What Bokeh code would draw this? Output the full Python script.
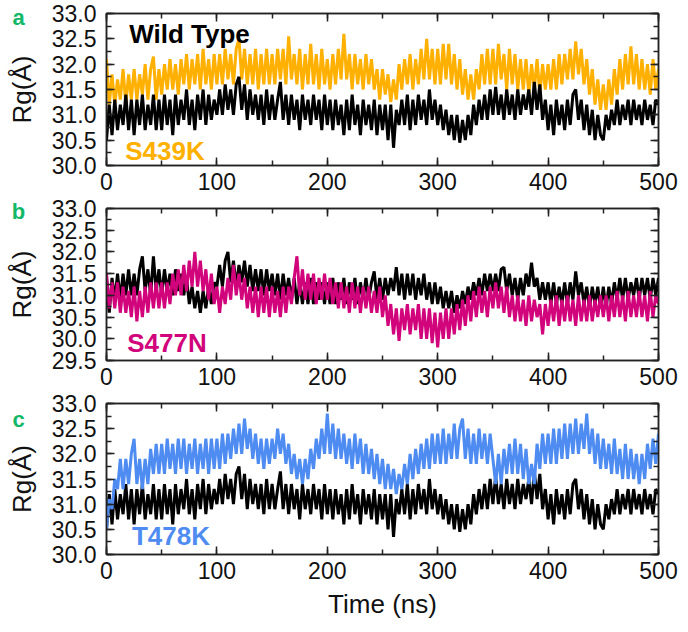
import numpy as np
from bokeh.plotting import figure
from bokeh.layouts import column, row
from bokeh.models import (Range1d, SingleIntervalTicker, PrintfTickFormatter,
                          LinearAxis, Label, CustomJSTickFormatter)
from bokeh.embed import file_html
from bokeh.resources import INLINE

# ---------------- data (Rg in Angstrom, sampled every 2.5 ns, 0..500 ns) ----------------
wild_type = [
    30.5, 31.2, 30.6, 31.3, 30.7, 31.2, 30.8, 31.4, 30.7, 31.3, 30.6, 31.3, 30.8, 31.4, 30.7, 31.2, 30.8, 31.4, 30.7, 31.3,
    30.7, 31.4, 30.8, 31.3, 30.6, 31.4, 30.8, 31.3, 30.9, 31.5, 30.8, 31.3, 30.7, 31.4, 30.9, 31.5, 30.8, 31.4, 30.9, 31.3,
    31.0, 31.5, 31.0, 31.6, 31.1, 31.5, 31.0, 31.6, 31.75, 31.1, 31.6, 30.9, 31.5, 31.0, 31.4, 30.9, 31.4, 30.8, 31.5, 30.9,
    31.4, 30.9, 31.3, 31.65, 30.9, 31.4, 30.8, 31.4, 30.9, 31.3, 30.7, 31.4, 30.9, 31.3, 30.8, 31.4, 30.9, 31.3, 30.7, 31.4,
    30.8, 31.3, 30.7, 31.3, 30.8, 31.2, 30.6, 31.3, 30.7, 31.4, 30.8, 31.2, 30.6, 31.3, 30.8, 31.2, 30.7, 31.3, 30.6, 31.2,
    30.7, 31.2, 30.5, 31.2, 30.35, 31.1, 30.8, 31.3, 30.8, 31.4, 30.7, 31.3, 30.8, 31.4, 30.9, 31.3, 30.8, 31.5, 30.9, 31.3,
    30.8, 31.2, 30.7, 31.1, 30.6, 31.0, 30.5, 31.0, 30.45, 30.9, 30.5, 31.0, 30.6, 31.2, 30.8, 31.3, 30.9, 31.4, 30.9, 31.5,
    31.0, 31.55, 31.0, 31.4, 30.9, 31.5, 31.0, 31.4, 30.9, 31.5, 31.0, 31.4, 31.1, 31.5, 31.0, 31.65, 31.1, 31.6, 30.9, 31.3,
    30.7, 31.2, 30.6, 31.3, 30.8, 31.2, 30.7, 31.3, 30.8, 31.4, 31.5, 30.9, 31.3, 30.7, 31.2, 30.6, 31.1, 30.5, 31.0, 30.6,
    30.5, 31.0, 30.7, 31.1, 30.8, 31.3, 30.8, 31.2, 30.9, 31.3, 30.8, 31.3, 30.9, 31.2, 30.8, 31.3, 30.9, 31.2, 30.8, 31.3,
    31.2,
]

s439k = [
    32.1, 31.2, 31.8, 31.2, 31.7, 31.3, 31.9, 31.2, 31.8, 31.3, 31.9, 31.3, 31.8, 31.4, 32.0, 31.3, 31.9, 32.15, 31.3, 31.9,
    31.4, 32.0, 31.5, 32.1, 31.5, 32.0, 31.4, 32.1, 31.6, 32.2, 31.5, 32.1, 31.6, 32.2, 31.5, 32.3, 31.6, 32.1, 31.5, 32.2,
    31.6, 32.2, 31.6, 32.3, 31.7, 32.2, 31.6, 32.3, 32.5, 31.7, 32.3, 31.6, 32.2, 31.6, 32.3, 31.5, 32.2, 31.6, 32.3, 31.6,
    32.2, 31.6, 32.3, 31.7, 32.3, 31.6, 32.55, 31.7, 32.2, 31.6, 32.3, 31.5, 32.2, 31.6, 32.4, 31.6, 32.2, 31.5, 32.3, 31.6,
    32.1, 31.5, 32.2, 31.6, 32.3, 31.7, 32.6, 31.7, 32.2, 31.5, 32.2, 31.6, 32.1, 31.5, 32.2, 31.6, 32.1, 31.5, 31.9, 31.3,
    31.9, 31.4, 31.8, 31.25, 31.7, 31.3, 32.0, 31.5, 32.1, 31.6, 32.2, 31.5, 32.1, 31.6, 32.3, 31.7, 32.5, 31.7, 32.3, 31.6,
    32.3, 31.6, 32.4, 31.7, 32.4, 31.6, 32.2, 31.5, 32.1, 31.4, 31.9, 31.3, 31.8, 31.3, 31.9, 31.5, 32.2, 31.6, 32.3, 31.6,
    32.3, 31.6, 32.4, 31.7, 32.2, 31.5, 32.3, 31.6, 32.2, 31.5, 32.1, 31.5, 32.1, 31.4, 32.0, 31.5, 32.1, 31.4, 32.0, 31.5,
    32.0, 31.5, 32.1, 31.5, 32.2, 31.6, 32.2, 31.7, 32.3, 31.7, 32.45, 31.8, 32.3, 31.6, 32.1, 31.4, 31.9, 31.2, 31.7, 31.1,
    31.6, 31.1, 31.7, 31.2, 31.9, 31.4, 32.1, 31.5, 32.2, 31.6, 32.35, 31.6, 32.2, 31.5, 32.1, 31.5, 32.0, 31.4, 32.1, 31.5,
    31.9,
]

wild_type_b = [
    31.4, 30.6, 31.4, 30.9, 31.5, 30.9, 31.5, 31.0, 31.6, 31.0, 31.5, 31.0, 31.6, 31.9, 31.1, 31.6, 31.0, 31.9, 31.1, 31.6,
    31.0, 31.6, 31.1, 31.5, 31.0, 31.6, 31.1, 31.5, 31.0, 31.4, 30.8, 31.2, 30.7, 31.1, 30.6, 31.1, 30.7, 31.2, 30.8, 31.3,
    31.2, 31.7, 31.2, 31.8, 32.0, 31.3, 31.8, 31.2, 31.7, 31.3, 31.8, 31.2, 31.7, 31.1, 31.6, 31.1, 31.6, 31.0, 31.6, 31.1,
    31.5, 31.0, 31.5, 30.9, 31.5, 31.0, 31.4, 30.9, 31.4, 30.8, 31.3, 30.8, 31.3, 30.8, 31.4, 30.8, 31.3, 30.9, 31.3, 30.8,
    31.3, 30.8, 31.4, 30.8, 31.3, 30.9, 31.4, 30.8, 31.3, 30.9, 31.4, 30.8, 31.3, 30.9, 31.4, 30.9, 31.3, 31.55, 30.9, 31.4,
    30.9, 31.4, 31.0, 31.4, 31.1, 31.65, 31.0, 31.5, 30.9, 31.5, 31.0, 31.5, 30.9, 31.4, 31.0, 31.5, 30.9, 31.3, 30.8, 31.3,
    30.8, 31.2, 30.7, 31.1, 30.7, 31.1, 30.6, 31.0, 30.7, 31.1, 30.8, 31.2, 30.9, 31.3, 31.0, 31.4, 31.0, 31.5, 31.1, 31.5,
    31.1, 31.5, 31.1, 31.6, 31.65, 31.1, 31.5, 31.0, 31.4, 30.9, 31.4, 31.0, 31.5, 31.2, 31.75, 31.2, 31.4, 30.9, 31.3, 30.9,
    31.3, 30.8, 31.3, 30.8, 31.2, 30.8, 31.3, 30.8, 31.3, 30.9, 31.55, 31.0, 31.3, 30.8, 31.2, 30.7, 31.2, 30.8, 31.2, 30.7,
    31.2, 30.7, 31.2, 30.8, 31.3, 30.9, 31.4, 30.9, 31.4, 30.9, 31.3, 31.0, 31.4, 30.9, 31.4, 31.0, 31.4, 30.9, 31.4, 31.0,
    31.4,
]

s477n = [
    31.5, 30.7, 31.3, 30.7, 31.3, 30.6, 31.2, 30.6, 31.1, 30.5, 31.2, 30.4, 31.1, 30.5, 31.2, 30.6, 31.3, 30.7, 31.3, 30.7,
    31.3, 30.7, 31.3, 30.8, 31.5, 31.0, 31.6, 31.0, 31.7, 31.1, 31.8, 31.2, 32.0, 31.2, 31.8, 31.1, 31.6, 30.9, 31.5, 30.8,
    31.2, 30.6, 31.2, 30.8, 31.4, 30.9, 31.7, 31.0, 31.5, 30.9, 31.4, 30.7, 31.2, 30.6, 31.2, 30.5, 31.2, 30.6, 31.2, 30.5,
    31.2, 30.6, 31.1, 30.5, 31.2, 30.6, 31.2, 30.8, 31.4, 31.9, 31.0, 31.6, 30.9, 31.5, 30.9, 31.5, 30.8, 31.4, 30.9, 31.5,
    30.9, 31.4, 30.8, 31.3, 30.7, 31.3, 30.7, 31.2, 30.6, 31.3, 30.7, 31.2, 30.6, 31.2, 30.7, 31.2, 30.6, 31.1, 30.6, 31.2,
    30.5, 31.0, 30.3, 30.8, 30.1, 30.7, 29.95, 30.7, 30.2, 30.8, 30.1, 30.7, 30.2, 30.8, 30.0, 30.7, 30.0, 30.7, 29.9, 30.6,
    29.8, 30.6, 30.0, 30.7, 30.0, 30.7, 30.1, 30.8, 30.2, 30.9, 30.3, 31.0, 30.4, 31.1, 30.5, 31.2, 30.6, 31.1, 30.5, 31.2,
    30.7, 31.3, 30.7, 31.2, 30.6, 31.2, 30.5, 31.0, 30.4, 31.0, 30.4, 30.9, 30.3, 31.0, 30.4, 30.9, 30.5, 30.8, 30.1, 30.8,
    30.3, 30.9, 30.4, 31.0, 30.3, 30.9, 30.4, 31.0, 30.4, 30.9, 30.3, 31.0, 30.4, 30.9, 30.4, 31.0, 30.4, 30.9, 30.5, 31.0,
    30.5, 31.0, 30.4, 31.0, 30.5, 31.1, 30.5, 31.0, 30.4, 31.1, 30.5, 31.0, 30.5, 31.1, 30.5, 31.0, 30.4, 31.1, 30.5, 31.0,
    30.8,
]

t478k = [
    30.5, 31.1, 30.9, 31.5, 31.3, 31.9, 31.3, 31.9, 31.4, 32.0, 32.3, 31.4, 31.9, 31.3, 31.9, 31.4, 32.1, 31.6, 32.2, 31.6,
    32.2, 31.6, 32.3, 31.7, 32.2, 31.6, 32.3, 31.7, 32.3, 31.6, 32.2, 31.7, 32.3, 31.6, 32.2, 31.7, 32.3, 31.6, 32.3, 31.7,
    32.3, 31.7, 32.4, 31.8, 32.4, 31.9, 32.5, 32.0, 32.6, 32.0, 32.7, 32.1, 32.5, 31.9, 32.4, 31.8, 32.3, 31.7, 32.3, 31.8,
    32.3, 31.9, 32.5, 32.0, 32.4, 31.8, 32.2, 31.6, 32.0, 31.5, 31.9, 31.4, 31.9, 31.5, 32.1, 31.7, 32.3, 31.9, 32.5, 32.0,
    32.8, 32.0, 32.6, 31.9, 32.5, 31.9, 32.4, 31.8, 32.3, 31.7, 32.4, 31.8, 32.3, 31.6, 32.2, 31.6, 32.1, 31.5, 32.0, 31.4,
    31.9, 31.3, 31.8, 31.3, 31.7, 31.2, 31.6, 31.3, 31.8, 31.4, 32.0, 31.5, 32.1, 31.6, 32.2, 31.7, 32.3, 31.7, 32.4, 31.8,
    32.4, 31.8, 32.5, 31.8, 32.4, 31.9, 32.6, 31.9, 32.5, 32.7, 31.9, 32.5, 31.8, 32.4, 31.8, 32.5, 31.9, 32.4, 31.8, 32.4,
    31.9, 31.4, 32.0, 31.4, 32.1, 31.6, 32.2, 31.6, 32.3, 31.6, 32.2, 31.5, 32.1, 31.4, 31.8, 31.4, 32.2, 31.7, 32.4, 31.8,
    32.4, 31.8, 32.5, 31.8, 32.5, 31.9, 32.6, 31.9, 32.6, 32.0, 32.7, 32.0, 32.6, 32.1, 32.8, 32.0, 32.5, 31.8, 32.4, 31.7,
    32.3, 31.7, 32.2, 31.6, 32.3, 31.6, 32.1, 31.5, 32.2, 31.5, 32.1, 31.5, 32.0, 31.4, 32.0, 31.5, 32.2, 31.7, 32.3, 31.8,
    32.4,
]

panel_letters = ["a", "b", "c"]
mutant_names = ["S439K", "S477N", "T478K"]
y_limits = [(30.0, 33.0), (29.5, 33.0), (30.0, 33.0)]
y_title = "Rg(Å)"
x_title = "Time (ns)"

# ---------------- styling ----------------
FONT = "Liberation Sans"
C_BLACK = "#000000"
C_ORANGE = "#FFB000"
C_MAGENTA = "#D1047C"
C_BLUE = "#4F8CF2"
C_GREEN = "#12B868"
LINE_COL = "#222222"

STRIP_W = 47          # left strip holding the panel letters and y titles
FRAME_W = 552
HEIGHTS = dict(a=(13, 152, 33), b=(10, 152, 33), c=(10, 151, 68))  # top, frame, bottom


def times(series):
    return np.linspace(0, 500, len(series))


def style_ticks(ax):
    ax.axis_line_color = LINE_COL
    ax.axis_line_width = 1.5
    ax.major_tick_in = 8
    ax.major_tick_out = 0
    ax.minor_tick_in = 5
    ax.minor_tick_out = 0
    ax.major_tick_line_color = LINE_COL
    ax.minor_tick_line_color = LINE_COL
    ax.major_tick_line_width = 1.5
    ax.minor_tick_line_width = 1.5


def make_panel(ylim, dims, show_xlabel):
    top_b, frame_h, bottom_b = dims
    p = figure(frame_width=FRAME_W, frame_height=frame_h,
               x_range=Range1d(0, 500), y_range=Range1d(*ylim),
               output_backend="svg", toolbar_location=None,
               min_border_left=59, min_border_right=21,
               min_border_top=top_b, min_border_bottom=bottom_b)
    p.xgrid.visible = False
    p.ygrid.visible = False
    p.outline_line_color = LINE_COL
    p.outline_line_width = 1.5
    p.background_fill_color = "white"
    p.border_fill_color = "white"

    for ax in p.xaxis:
        ax.ticker = SingleIntervalTicker(interval=100, num_minor_ticks=2)
        ax.major_label_text_font = FONT
        ax.major_label_text_font_size = "23px"
        ax.major_label_text_color = "#111111"
        ax.major_label_standoff = 7
        if show_xlabel:
            ax.axis_label = x_title
            ax.axis_label_text_font = FONT
            ax.axis_label_text_font_size = "26px"
            ax.axis_label_text_font_style = "normal"
            ax.axis_label_text_color = "#111111"
            ax.axis_label_standoff = 7
        style_ticks(ax)
    for ax in p.yaxis:
        ax.ticker = SingleIntervalTicker(interval=0.5, num_minor_ticks=2)
        ax.formatter = PrintfTickFormatter(format="%.1f")
        ax.major_label_text_font = FONT
        ax.major_label_text_font_size = "23px"
        ax.major_label_text_color = "#111111"
        ax.major_label_standoff = 10
        style_ticks(ax)

    # mirrored axes (ticks only, no labels)
    blank = CustomJSTickFormatter(code="return ''")
    top = LinearAxis(ticker=SingleIntervalTicker(interval=100, num_minor_ticks=2),
                     formatter=blank)
    right = LinearAxis(ticker=SingleIntervalTicker(interval=0.5, num_minor_ticks=2),
                       formatter=blank)
    for ax in (top, right):
        ax.major_label_standoff = 0
        ax.major_label_text_font_size = "1px"
        style_ticks(ax)
    p.add_layout(top, "above")
    p.add_layout(right, "right")
    return p


def add_label(p, x, y, text, color, size, align="left"):
    p.add_layout(Label(x=x, y=y, text=text, text_color=color,
                       text_font=FONT, text_font_size=size,
                       text_font_style="bold",
                       text_align=align, text_baseline="middle"))


LW = 3.0

# Panel a
pa = make_panel(y_limits[0], HEIGHTS["a"], False)
pa.line(times(s439k), s439k, line_color=C_ORANGE, line_width=LW)
pa.line(times(wild_type), wild_type, line_color=C_BLACK, line_width=LW)
add_label(pa, 20.5, 32.59, "Wild Type", C_BLACK, "26px")
add_label(pa, 17, 30.28, mutant_names[0], C_ORANGE, "26px")

# Panel b
pb = make_panel(y_limits[1], HEIGHTS["b"], False)
pb.line(times(wild_type_b), wild_type_b, line_color=C_BLACK, line_width=LW)
pb.line(times(s477n), s477n, line_color=C_MAGENTA, line_width=LW)
add_label(pb, 18.8, 29.91, mutant_names[1], C_MAGENTA, "26px")

# Panel c
pc = make_panel(y_limits[2], HEIGHTS["c"], True)
pc.line(times(wild_type), wild_type, line_color=C_BLACK, line_width=LW)
pc.line(times(t478k), t478k, line_color=C_BLUE, line_width=LW)
add_label(pc, 23, 30.36, mutant_names[2], C_BLUE, "26px")

# ---------------- left strip: panel letters and y-axis titles ----------------
total_h = sum(sum(v) for v in HEIGHTS.values())
strip = figure(frame_width=STRIP_W, frame_height=total_h,
               x_range=Range1d(0, STRIP_W), y_range=Range1d(total_h, 0),
               x_axis_type=None, y_axis_type=None,
               output_backend="svg", toolbar_location=None,
               min_border=0)
strip.grid.visible = False
strip.outline_line_color = None
strip.background_fill_color = "white"
strip.border_fill_color = "white"

offsets = []
acc = 0
for key in ("a", "b", "c"):
    top_b, frame_h, bottom_b = HEIGHTS[key]
    offsets.append((acc + top_b, frame_h))
    acc += top_b + frame_h + bottom_b

letter_dy = [4, 3, 16]   # letter centre below each frame top (px)
for (ftop, fh), letter, dy in zip(offsets, panel_letters, letter_dy):
    strip.add_layout(Label(x=18, y=ftop + dy, text=letter, text_color=C_GREEN,
                           text_font=FONT, text_font_size="22px",
                           text_font_style="bold",
                           text_align="center", text_baseline="middle"))
    strip.add_layout(Label(x=21, y=ftop + fh / 2, text=y_title, angle=np.pi / 2,
                           text_color="#111111", text_font=FONT,
                           text_font_size="26px", text_font_style="normal",
                           text_align="center", text_baseline="middle"))

layout = row(strip, column(pa, pb, pc, spacing=0), spacing=0)
open("out.html", "w").write(file_html(layout, INLINE))
